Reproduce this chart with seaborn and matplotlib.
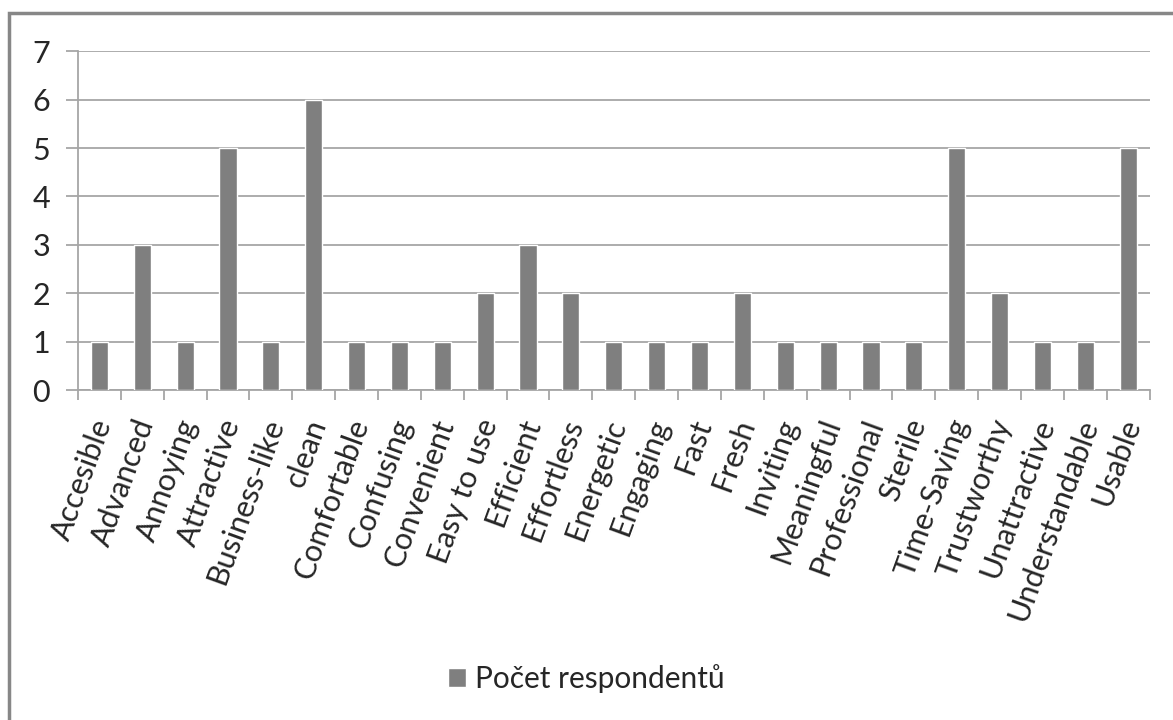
import seaborn as sns
import matplotlib.pyplot as plt
import matplotlib.patches as mpatches
import matplotlib.transforms as mtransforms
import pandas as pd
import numpy as np

# data
words = ['Accesible', 'Advanced', 'Annoying', 'Attractive', 'Business-like', 'clean',
         'Comfortable', 'Confusing', 'Convenient', 'Easy to use', 'Efficient', 'Effortless',
         'Energetic', 'Engaging', 'Fast', 'Fresh', 'Inviting', 'Meaningful', 'Professional',
         'Sterile', 'Time-Saving', 'Trustworthy', 'Unattractive', 'Understandable', 'Usable']
counts = [1, 3, 1, 5, 1, 6, 1, 1, 1, 2, 3, 2, 1, 1, 1, 2, 1, 1, 1, 1, 5, 2, 1, 1, 5]
series_name = 'Počet respondentů'

df = pd.DataFrame({'word': words, 'count': counts})

sns.set_style('white')
plt.rcParams['font.family'] = ['Lato', 'DejaVu Sans']

fig = plt.figure(figsize=(11.73, 7.2), dpi=100)
ax = fig.add_axes([0.0665, 0.458, 0.9135, 0.471])

sns.barplot(data=df, x='word', y='count', color='#7f7f7f', width=0.4,
            saturation=1, label=series_name, ax=ax, zorder=3)

grid_c = '#a6a6a6'
fs = 22
ax.set_ylim(0, 7)
ax.set_xlim(-0.5, len(words) - 0.5)
ax.set_yticks(range(0, 8))
ax.yaxis.grid(True, color=grid_c, linewidth=1.3, zorder=0)
ax.set_xlabel('')
ax.set_ylabel('')

for s in ['top', 'right']:
    ax.spines[s].set_visible(False)
for s in ['left', 'bottom']:
    ax.spines[s].set_color(grid_c)
    ax.spines[s].set_linewidth(1.3)

ax.tick_params(axis='y', length=9, width=1.3, color=grid_c, labelsize=fs, pad=11,
               direction='out', left=True)
ax.set_xticks(np.arange(-0.5, len(words), 1.0), minor=True)
ax.tick_params(axis='x', which='minor', length=7, width=1.3, color=grid_c,
               direction='out', bottom=True)
ax.tick_params(axis='x', which='major', length=0, labelsize=fs, pad=12)
ax.set_xticks(range(len(words)))
ax.set_xticklabels(words, rotation=70, ha='right', va='center', rotation_mode='anchor')
shift = mtransforms.ScaledTranslation(0.04, -0.13, fig.dpi_scale_trans)
for lab in ax.get_xticklabels():
    lab.set_transform(lab.get_transform() + shift)

ax.legend(loc='center', bbox_to_anchor=(0.5, 0.058), bbox_transform=fig.transFigure,
          frameon=False, fontsize=21.5, handlelength=0.6, handleheight=0.6,
          handletextpad=0.3)

# outer chart border
fig.patches.append(mpatches.Rectangle((0.008, -0.05), 1.2, 1.032, transform=fig.transFigure,
                                      fill=False, edgecolor='#878787', linewidth=2.5))

fig.savefig('out.png', dpi=100, facecolor='white')
